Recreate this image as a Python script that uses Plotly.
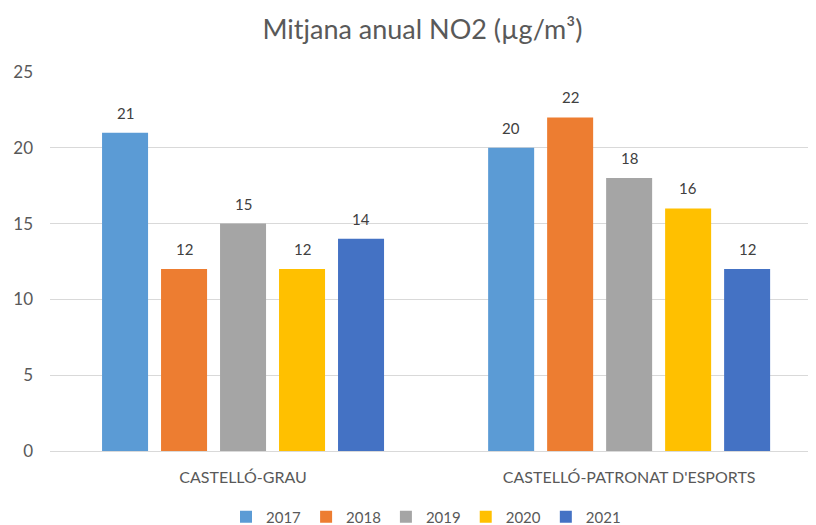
import plotly.graph_objects as go

categories = ["CASTELLÓ-GRAU", "CASTELLÓ-PATRONAT D'ESPORTS"]
years = ["2017", "2018", "2019", "2020", "2021"]
values = {
    "2017": [21, 20],
    "2018": [12, 22],
    "2019": [15, 18],
    "2020": [12, 16],
    "2021": [14, 12],
}
colors = {
    "2017": "#5B9BD5",
    "2018": "#ED7D31",
    "2019": "#A5A5A5",
    "2020": "#FFC000",
    "2021": "#4472C4",
}

FONT = "Lato, Open Sans, sans-serif"
BARGAP = 0.236
BARGROUPGAP = 0.22

fig = go.Figure()
for y in years:
    fig.add_trace(go.Bar(
        name=y, x=categories, y=values[y],
        marker=dict(color=colors[y], line=dict(width=0)),
    ))

# data labels centred over each grouped bar
slot = (1 - BARGAP) / len(years)
for i, yr in enumerate(years):
    for j, v in enumerate(values[yr]):
        fig.add_annotation(
            x=j + (i - (len(years) - 1) / 2) * slot, y=v, xref="x", yref="y",
            text=str(v), showarrow=False, yanchor="middle", yshift=20,
            font=dict(family=FONT, size=15, color="#404040"),
        )

# the page is shown with an 8px body margin; margins compensate for that offset
fig.update_layout(
    width=816, height=525,
    paper_bgcolor="white", plot_bgcolor="white",
    margin=dict(l=42, r=8, t=64, b=82, autoexpand=False),
    barmode="group", bargap=BARGAP, bargroupgap=BARGROUPGAP,
    title=dict(text="Mitjana anual NO2 (µg/m³)", x=(422.5 - 8) / 816, xanchor="center",
               xref="container", y=1 - 22 / 525, yanchor="middle", yref="container",
               font=dict(family=FONT, size=27, color="#595959")),
    font=dict(family=FONT, color="#595959"),
    legend=dict(orientation="h", x=(426 - 8) / 816, xanchor="center", xref="container",
                y=1 - 509 / 525, yanchor="middle", yref="container",
                font=dict(family=FONT, size=15, color="#595959"),
                itemwidth=30, traceorder="normal"),
    xaxis=dict(range=[-0.5, 1.484], showgrid=False, showline=True,
               linecolor="#D9D9D9", linewidth=1, ticks="", automargin=False,
               ticklabelstandoff=12,
               tickfont=dict(family=FONT, size=16, color="#595959")),
    yaxis=dict(range=[0, 25], dtick=5, showgrid=True, gridcolor="#D9D9D9",
               zeroline=False, showline=False, ticks="", ticklabelstandoff=16,
               automargin=False,
               tickfont=dict(family=FONT, size=17, color="#595959")),
)

fig.write_html("out.html")
